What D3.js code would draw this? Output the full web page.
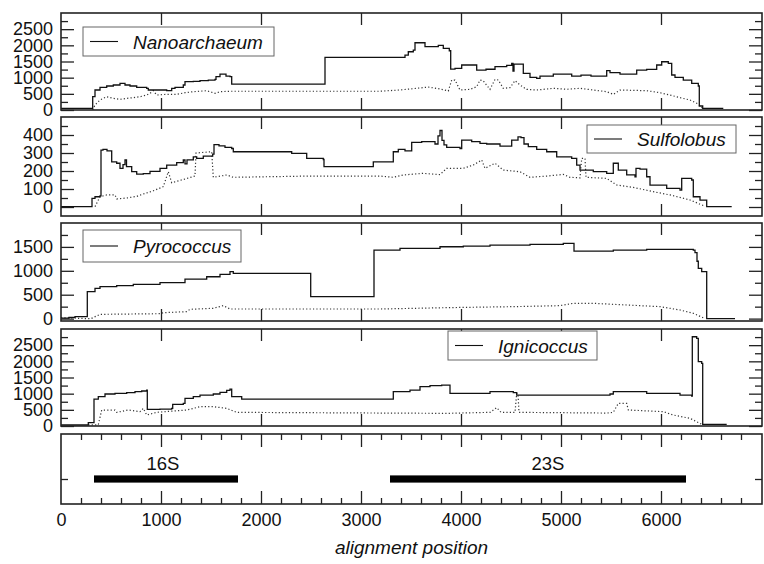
<!DOCTYPE html>
<html>
<head>
<meta charset="utf-8">
<script src="https://cdn.jsdelivr.net/npm/d3@7"></script>
<style>
  body { margin: 0; background: #fff; }
  text { font-family: "Liberation Sans", Arial, Helvetica, sans-serif; fill: #111; }
</style>
</head>
<body>
<div id="chart"></div>
<script>
// coverage along the alignment, [position, value]
const nanoSolid = [[0,50],[317,411],[340,618],[390,700],[457,742],[523,773],[590,824],[640,773],[690,742],[757,700],[857,670],[873,618],[1057,597],[1107,670],[1140,700],[1223,773],[1240,875],[1323,886],[1390,906],[1473,927],[1540,948],[1550,1030],[1590,1112],[1650,1050],[1690,1030],[1707,803],[2640,1627],[3440,1700],[3473,1802],[3523,1854],[3540,2080],[3640,1957],[3773,2000],[3823,1906],[3883,1833],[3897,1267],[3940,1290],[4007,1391],[4157,1236],[4250,1260],[4340,1339],[4457,1381],[4507,1442],[4520,1200],[4530,1420],[4623,1133],[4690,1009],[4757,978],[4790,1050],[4923,1112],[5107,1050],[5200,1080],[5300,1050],[5457,1215],[5490,1153],[5590,1112],[5757,1236],[5857,1256],[5957,1391],[6007,1493],[6073,1442],[6107,1082],[6140,1009],[6223,927],[6307,824],[6373,742],[6383,124],[6417,52],[6623,52]];
const nanoDotted = [[317,0],[340,155],[390,309],[457,411],[523,360],[590,330],[657,360],[723,381],[790,411],[857,463],[890,515],[923,597],[957,463],[1057,484],[1157,484],[1240,535],[1323,566],[1457,597],[1540,515],[1590,566],[1690,580],[3190,580],[3390,620],[3523,660],[3673,710],[3773,660],[3873,590],[3907,927],[3940,927],[3990,618],[4090,638],[4157,721],[4190,927],[4223,900],[4290,638],[4340,948],[4373,927],[4423,670],[4490,690],[4540,906],[4590,773],[4657,638],[4757,618],[4923,670],[5057,640],[5190,670],[5323,618],[5457,566],[5523,484],[5590,618],[5857,597],[5990,535],[6090,463],[6190,381],[6290,309],[6373,185],[6417,52]];

const sulfSolid = [[0,2],[310,48],[340,57],[390,62],[400,316],[420,320],[460,312],[507,251],[557,243],[590,215],[620,235],[640,261],[655,224],[707,196],[757,183],[823,185],[890,198],[990,215],[1057,233],[1157,246],[1223,261],[1240,240],[1260,262],[1323,279],[1357,270],[1423,283],[1517,294],[1530,347],[1580,340],[1640,331],[1707,325],[1723,307],[2290,307],[2307,298],[2457,270],[2623,264],[2630,224],[3090,224],[3123,251],[3307,251],[3323,307],[3373,320],[3440,312],[3507,359],[3607,363],[3740,350],[3770,395],[3790,425],[3810,370],[3830,345],[3857,331],[3990,325],[4007,372],[4107,363],[4190,353],[4257,350],[4390,338],[4507,372],[4570,390],[4600,385],[4630,350],[4673,335],[4757,320],[4857,307],[4957,279],[5107,270],[5157,233],[5190,205],[5323,196],[5457,187],[5523,243],[5573,205],[5657,178],[5740,168],[5750,215],[5790,210],[5857,168],[5890,122],[6057,104],[6190,94],[6207,159],[6307,150],[6323,57],[6390,38],[6457,2],[6707,2]];
const sulfDotted = [[340,2],[390,57],[457,67],[540,67],[557,45],[657,50],[757,59],[823,72],[923,90],[1023,113],[1073,196],[1107,135],[1223,153],[1340,172],[1350,300],[1507,307],[1523,165],[1657,178],[1723,165],[2500,172],[3190,172],[3323,165],[3423,178],[3623,187],[3790,180],[3857,215],[4023,215],[4123,233],[4207,261],[4240,215],[4340,243],[4423,205],[4590,196],[4690,165],[4857,172],[5023,181],[5090,165],[5190,162],[5207,270],[5240,270],[5250,165],[5457,159],[5557,122],[5723,109],[5923,85],[6090,67],[6290,39],[6440,4]];

const pyroSolid = [[0,10],[80,25],[140,40],[263,563],[340,632],[390,667],[557,688],[723,716],[990,751],[1240,828],[1457,876],[1590,925],[1690,981],[1723,946],[2497,458],[3130,1434],[3390,1469],[3790,1503],[4023,1517],[4290,1538],[4690,1552],[5023,1573],[5130,1413],[5523,1434],[5857,1448],[6323,1434],[6340,1380],[6360,1200],[6373,1051],[6407,981],[6457,0],[6740,0]];
const pyroDotted = [[0,20],[260,0],[300,0],[390,89],[990,103],[1023,124],[1257,145],[1290,194],[1523,216],[1623,271],[1690,201],[3190,201],[3857,229],[4523,250],[4990,271],[5123,320],[5323,320],[5523,299],[5990,250],[6190,180],[6323,111],[6440,0]];

const ignSolid = [[0,31],[273,103],[330,834],[373,906],[440,989],[540,1010],[657,1030],[740,1061],[807,1082],[857,1112],[863,515],[990,525],[1107,546],[1117,670],[1223,700],[1240,855],[1323,906],[1390,958],[1523,989],[1590,1041],[1657,1102],[1690,1143],[1707,906],[1807,834],[3323,1061],[3490,1112],[3590,1215],[3690,1246],[3807,1267],[3890,1010],[4290,1061],[4523,1030],[4557,958],[5490,989],[5523,1061],[5857,1010],[6190,958],[6307,927],[6313,2761],[6357,2709],[6373,1988],[6407,1936],[6417,52],[6657,52]];
const ignDotted = [[273,31],[373,40],[407,494],[540,494],[557,422],[673,494],[790,443],[823,546],[857,340],[957,422],[1123,463],[1257,494],[1390,597],[1523,597],[1657,546],[1757,422],[3857,391],[4290,422],[4357,566],[4400,422],[4540,422],[4557,1010],[4570,990],[4580,422],[5457,400],[5523,422],[5573,700],[5657,700],[5673,494],[6023,443],[6123,340],[6290,237],[6390,82],[6417,31]];

const speciesNames = ["Nanoarchaeum", "Sulfolobus", "Pyrococcus", "Ignicoccus"];
const yDomains = [[0, 3000], [-50, 500], [-50, 2000], [0, 3000]];
const yMajorStep = [500, 100, 500, 500];
const yLabelMax = [2500, 400, 1500, 2500];

const geneNames = ["16S", "23S"];
const geneStart = [330, 3290];
const geneEnd = [1770, 6250];
const geneLabelPos = [1020, 4870];

const xLabelTicks = [0, 1000, 2000, 3000, 4000, 5000, 6000];

const width = 764, height = 564;
const left = 61, right = 762;

const svg = d3.select("#chart").append("svg")
  .attr("width", width).attr("height", height);

const x = d3.scaleLinear().domain([0, 7010]).range([left, right]);
const xMajor = d3.range(0, 7001, 1000);
const xMinor = d3.range(200, 7001, 200).filter(d => d % 1000 !== 0);

const series = [[nanoSolid, nanoDotted], [sulfSolid, sulfDotted], [pyroSolid, pyroDotted], [ignSolid, ignDotted]];
const panelBox = [[13, 110], [117, 216], [223, 321], [329, 426]];
const legendBox = [[83, 27, 191, 29], [587, 125, 149, 28], [83, 230, 158, 32], [448, 331, 149, 29]];

function xTicks(g, y0, y1, vals, len) {
  g.append("g").attr("transform", `translate(0,${y1})`)
    .call(d3.axisBottom(x).tickValues(vals).tickSize(-len).tickFormat(""))
    .call(a => a.select(".domain").remove());
  g.append("g").attr("transform", `translate(0,${y0})`)
    .call(d3.axisTop(x).tickValues(vals).tickSize(-len).tickFormat(""))
    .call(a => a.select(".domain").remove());
}

series.forEach((s, i) => {
  const [y0, y1] = panelBox[i];
  const dom = yDomains[i];
  const y = d3.scaleLinear().domain(dom).range([y1, y0]);
  const g = svg.append("g");
  const clipId = "clip" + i;
  g.append("clipPath").attr("id", clipId).append("rect")
    .attr("x", left).attr("y", y0).attr("width", right - left).attr("height", y1 - y0);

  const step = yMajorStep[i];
  const major = d3.range(0, yLabelMax[i] + 1, step);
  const minor = d3.range(step / 2, dom[1], step);

  // y ticks, pointing inward on both sides
  g.append("g").attr("transform", `translate(${left},0)`)
    .call(d3.axisLeft(y).tickValues(major).tickSize(-13).tickPadding(8).tickFormat(d3.format("d")))
    .call(a => a.select(".domain").remove())
    .call(a => a.selectAll("text").attr("font-size", 18).attr("font-family", null));
  g.append("g").attr("transform", `translate(${left},0)`)
    .call(d3.axisLeft(y).tickValues(minor).tickSize(-7).tickFormat(""))
    .call(a => a.select(".domain").remove());
  g.append("g").attr("transform", `translate(${right},0)`)
    .call(d3.axisRight(y).tickValues(major).tickSize(-13).tickFormat(""))
    .call(a => a.select(".domain").remove());
  g.append("g").attr("transform", `translate(${right},0)`)
    .call(d3.axisRight(y).tickValues(minor).tickSize(-7).tickFormat(""))
    .call(a => a.select(".domain").remove());

  xTicks(g, y0, y1, xMajor.filter(d => d > 0 && d < 7000), 12);

  const plot = g.append("g").attr("clip-path", `url(#${clipId})`);
  plot.append("path").datum(s[1])
    .attr("fill", "none").attr("stroke", "#333").attr("stroke-width", 1.2)
    .attr("stroke-dasharray", "1.2,2.2")
    .attr("d", d3.line().x(d => x(d[0])).y(d => y(d[1])));
  plot.append("path").datum(s[0])
    .attr("fill", "none").attr("stroke", "#111").attr("stroke-width", 1.3)
    .attr("d", d3.line().curve(d3.curveStepAfter).x(d => x(d[0])).y(d => y(d[1])));

  g.append("rect").attr("x", left).attr("y", y0).attr("width", right - left).attr("height", y1 - y0)
    .attr("fill", "none").attr("stroke", "#222").attr("stroke-width", 1.6);

  // legend
  const [lx, ly, lw, lh] = legendBox[i];
  const lg = g.append("g");
  lg.append("rect").attr("x", lx).attr("y", ly).attr("width", lw).attr("height", lh)
    .attr("fill", "#fff").attr("stroke", "#666").attr("stroke-width", 1);
  lg.append("line").attr("x1", lx + 7).attr("x2", lx + 35)
    .attr("y1", ly + lh / 2).attr("y2", ly + lh / 2)
    .attr("stroke", "#111").attr("stroke-width", 1.1);
  lg.append("text").attr("x", lx + 50).attr("y", ly + lh / 2 + 7)
    .attr("font-size", 19).attr("font-style", "italic").text(speciesNames[i]);
});

// gene panel
const gy0 = 434, gy1 = 504;
const gy = d3.scaleLinear().domain([0, 2.8]).range([gy1, gy0]);
const gg = svg.append("g");
xTicks(gg, gy0, gy1, xMajor.filter(d => d > 0 && d < 7000), 13);
xTicks(gg, gy0, gy1, xMinor, 6);
gg.append("g").attr("transform", `translate(${left},0)`)
  .call(d3.axisLeft(gy).tickValues([1]).tickSize(-7).tickFormat(""))
  .call(a => a.select(".domain").remove());
gg.append("g").attr("transform", `translate(${right},0)`)
  .call(d3.axisRight(gy).tickValues([1]).tickSize(-7).tickFormat(""))
  .call(a => a.select(".domain").remove());

gg.selectAll("rect.gene").data(geneNames).enter().append("rect")
  .attr("class", "gene")
  .attr("x", (d, i) => x(geneStart[i]))
  .attr("width", (d, i) => x(geneEnd[i]) - x(geneStart[i]))
  .attr("y", gy(1) - 3.6).attr("height", 7.2)
  .attr("fill", "#000");
gg.selectAll("text.gene").data(geneNames).enter().append("text")
  .attr("class", "gene")
  .attr("x", (d, i) => x(geneLabelPos[i]))
  .attr("y", gy(1.64) + 6.5)
  .attr("text-anchor", "middle").attr("font-size", 18.5)
  .text(d => d);

gg.append("g").attr("transform", `translate(0,${gy1})`)
  .call(d3.axisBottom(x).tickValues(xLabelTicks).tickSize(0).tickPadding(9.5).tickFormat(d3.format("d")))
  .call(a => a.select(".domain").remove())
  .call(a => a.selectAll("text").attr("font-size", 18).attr("font-family", null));

gg.append("rect").attr("x", left).attr("y", gy0).attr("width", right - left).attr("height", gy1 - gy0)
  .attr("fill", "none").attr("stroke", "#222").attr("stroke-width", 1.6);

svg.append("text").attr("x", (left + right) / 2).attr("y", 554)
  .attr("text-anchor", "middle").attr("font-size", 19).attr("font-style", "italic")
  .text("alignment position");

svg.selectAll(".tick line").attr("stroke", "#222").attr("stroke-width", 1.3);
</script>
</body>
</html>
